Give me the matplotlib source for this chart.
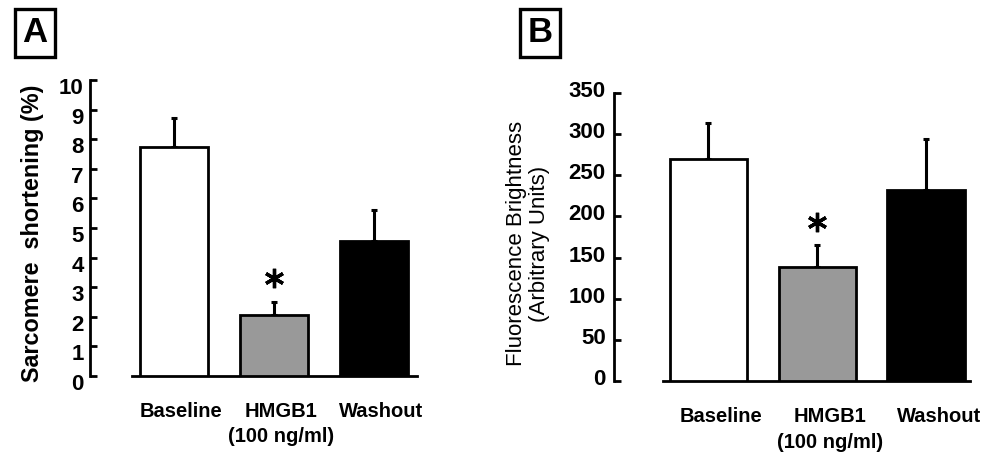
import numpy as np
import matplotlib
matplotlib.use("Agg")
import matplotlib.pyplot as plt
import matplotlib.transforms as mtransforms

plt.rcParams["font.family"] = ["Liberation Sans", "DejaVu Sans"]

# panel A: sarcomere shortening
groups = ["Baseline", "HMGB1\n(100 ng/ml)", "Washout"]
shortening = [7.75, 2.05, 4.55]
shortening_err = [0.95, 0.45, 1.05]
shortening_ticks = [0, 1, 2, 3, 4, 5, 6, 7, 8, 9, 10]

# panel B: fluorescence brightness
brightness = [270, 139, 232]
brightness_err = [43, 26, 62]
brightness_ticks = [0, 50, 100, 150, 200, 250, 300, 350]

bar_colors = ["white", "#999999", "black"]
significant = [False, True, False]

LW = 2.0
DPI = 100


def draw_panel(ax, means, errs, ticks, bar_width, xlim, line_start,
               label_pad, label_dy, xlabel_dx, linespacing):
    x = np.arange(len(means))
    ax.bar(x, means, width=bar_width, color=bar_colors, edgecolor="black",
           linewidth=LW, zorder=3)
    ax.errorbar(x, means, yerr=[np.zeros(len(errs)), errs], fmt="none",
                ecolor="black", elinewidth=LW + 0.2, capsize=2.5,
                capthick=LW + 0.2, zorder=2)
    top = ticks[-1]
    for xi, m, e, s in zip(x, means, errs, significant):
        if s:
            ax.plot(xi, m + e + 0.08 * top, marker=(6, 2, 0), markersize=14,
                    mew=2.4, color="black", zorder=4)

    ax.set_xlim(*xlim)
    ax.set_ylim(0, top)
    for side in ["top", "right"]:
        ax.spines[side].set_visible(False)
    ax.spines["left"].set_linewidth(LW)
    ax.spines["bottom"].set_linewidth(LW)
    ax.spines["left"].set_bounds(0, top)
    ax.spines["bottom"].set_bounds(line_start, xlim[1])

    ax.set_yticks(ticks)
    ax.set_yticklabels([str(t) for t in ticks], fontsize=16,
                       fontweight="bold")
    ax.tick_params(axis="y", direction="in", length=5, width=LW,
                   pad=label_pad)
    off = mtransforms.ScaledTranslation(0, -label_dy / DPI, ax.figure.dpi_scale_trans)
    for lab in ax.get_yticklabels():
        lab.set_transform(lab.get_transform() + off)

    ax.set_xticks(x)
    ax.set_xticklabels(groups, fontsize=14.5, fontweight="bold",
                       linespacing=linespacing)
    ax.tick_params(axis="x", length=0, pad=19)
    offx = mtransforms.ScaledTranslation(xlabel_dx / DPI, 0, ax.figure.dpi_scale_trans)
    for lab in ax.get_xticklabels():
        lab.set_transform(lab.get_transform() + offx)


fig = plt.figure(figsize=(9.87, 4.62), dpi=DPI)

ax_a = fig.add_axes([90 / 987, 86 / 462, 327 / 987, 296 / 462])
draw_panel(ax_a, shortening, shortening_err, shortening_ticks, 0.68,
           (-0.835, 2.43), -0.415, 4.5, 6, 7, 1.35)
ax_a.text(-0.176, 0.483, "Sarcomere  shortening (%)", transform=ax_a.transAxes,
          rotation=90, ha="center", va="center", fontsize=16.8,
          fontweight="bold")

ax_b = fig.add_axes([614 / 987, 81 / 462, 356 / 987, 288 / 462])
draw_panel(ax_b, brightness, brightness_err, brightness_ticks, 0.71,
           (-0.869, 2.405), -0.418, 6, -4, 13, 1.45)
ax_b.text(-0.2416, 0.476, "Fluorescence Brightness\n(Arbitrary Units)",
          transform=ax_b.transAxes, rotation=90, ha="center", va="center",
          fontsize=16, linespacing=1.15)

for label, px in [("A", 35), ("B", 540)]:
    fig.text(px / 987, 1 - 33 / 462, label, ha="center", va="center",
             fontsize=25, fontweight="bold",
             bbox=dict(boxstyle="square,pad=0.22", facecolor="white",
                       edgecolor="black", linewidth=2.4))

fig.savefig("out.png", dpi=DPI)
